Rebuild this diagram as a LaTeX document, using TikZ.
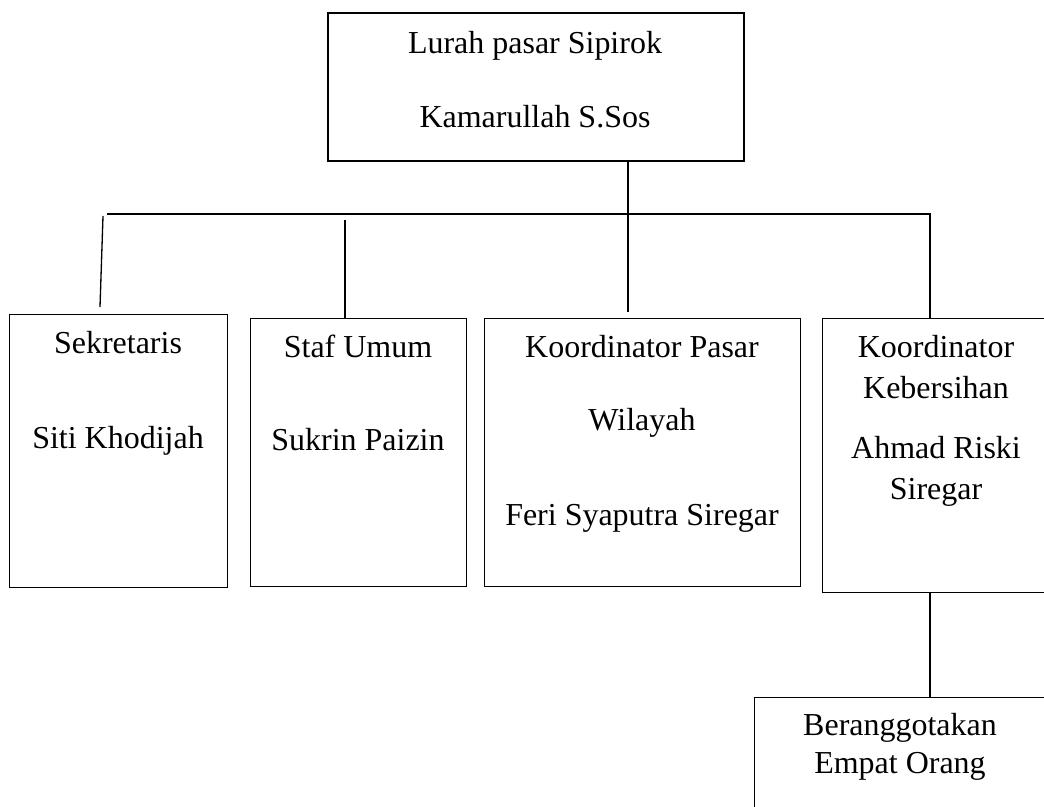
\documentclass[tikz,border=0pt]{standalone}
\usepackage{fontspec}
\setmainfont{Liberation Serif}
\usetikzlibrary{positioning}

\begin{document}
\begin{tikzpicture}[x=0.02cm,y=-0.02cm,
 every node/.style={font=\fontsize{18.2}{23.3}\selectfont,align=center},
 box/.style={draw,line width=0.8pt,anchor=north west,inner sep=0pt},
 txt/.style={anchor=north,inner sep=0pt},
 ln/.style={line width=0.75pt}]
\useasboundingbox (0,0) rectangle (1044,807);
\clip (0,0) rectangle (1044,807);
% boxes
\node[box,line width=1.1pt,minimum width=8.32cm,minimum height=2.96cm] (lurah) at (327,12) {};
\node[box,minimum width=4.36cm,minimum height=5.46cm] (sek) at (9,314) {};
\node[box,minimum width=4.32cm,minimum height=5.36cm] (staf) at (250,318) {};
\node[box,minimum width=6.32cm,minimum height=5.36cm] (pasar) at (484,318) {};
\node[box,minimum width=4.56cm,minimum height=5.48cm] (keb) at (822,318) {};
\node[box,minimum width=5.88cm,minimum height=2.8cm] (anggota) at (754,697) {};
% texts
\node[txt] (lurahT) at (535,31) {Lurah pasar Sipirok\\[0.66cm]Kamarullah S.Sos};
\node[txt] (sekT) at (118,331) {Sekretaris\\[1.08cm]Siti Khodijah};
\node[txt] (stafT) at (358,335) {Staf Umum\\[1.04cm]Sukrin Paizin};
\node[txt] (pasarT) at (642,335) {Koordinator Pasar\\[0.64cm]Wilayah\\[1.08cm]Feri Syaputra Siregar};
\node[txt] (kebT) at (936,335) {Koordinator\\Kebersihan\\[0.38cm]Ahmad Riski\\Siregar};
\node[txt] (anggotaT) at (900,713) {Beranggotakan\\[-0.06cm]Empat Orang};
% lines
\coordinate (busL) at (107,214);
\coordinate (busR) at (930,214);
\coordinate (trunkEnd) at (628,312);
\coordinate (sekTop) at (103,216);
\coordinate (stafTop) at (345,220);
\draw[ln] (lurah.south -| trunkEnd) -- (trunkEnd);
\draw[ln] (busL) -- (busR) -- (busR |- keb.north);
\draw[ln] (sekTop) -- ++(-3,91);
\draw[ln] (stafTop) -- (stafTop |- staf.north);
\draw[ln] (keb.south -| busR) -- (anggota.north -| busR);
\end{tikzpicture}
\end{document}
